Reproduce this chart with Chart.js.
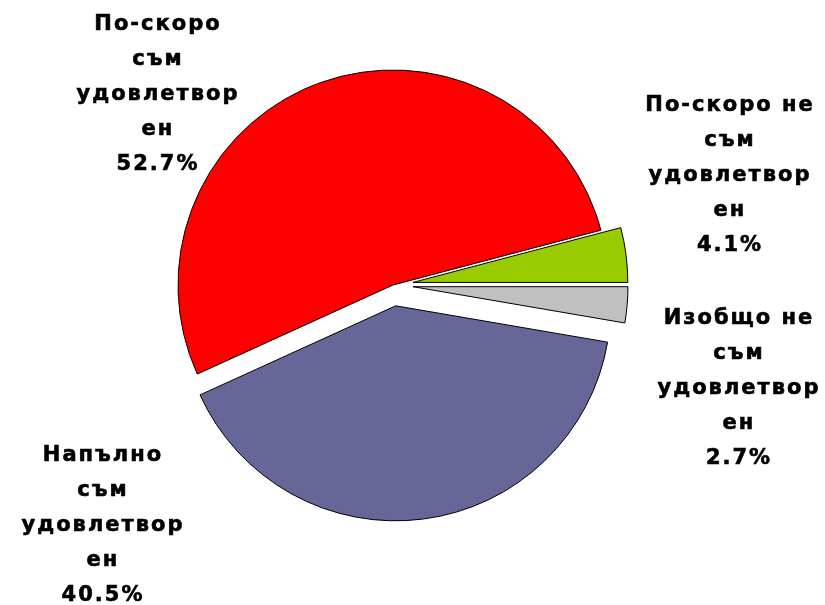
<!DOCTYPE html>
<html lang="bg">
<head>
<meta charset="UTF-8">
<title>Удовлетвореност</title>
<script src="https://cdn.jsdelivr.net/npm/chart.js"></script>
<style>
    body { margin: 0; background: #fff; }
    #wrap { width: 825px; height: 605px; }
</style>
</head>
<body>
<div id="wrap"><canvas id="pie"></canvas></div>
<script>
    // categories, split the way they wrap on the chart
    const categories = [
        ['Напълно', 'съм', 'удовлетвор', 'ен'],
        ['По-скоро', 'съм', 'удовлетвор', 'ен'],
        ['По-скоро не', 'съм', 'удовлетвор', 'ен'],
        ['Изобщо не', 'съм', 'удовлетвор', 'ен']
    ];
    const shares = [40.5, 52.7, 4.1, 2.7];
    const sliceColors = ['#666699', '#ff0000', '#99cc00', '#c0c0c0'];
    const explode = [21, 0, 20, 20];

    // label block position (centre of first line), relative to pie centre
    const labelAnchors = [
        { dx: -291, dy: 171 },
        { dx: -236, dy: -260 },
        { dx: 336, dy: -179 },
        { dx: 345, dy: 34 }
    ];

    // pull slices out along their middle angle without changing their radius
    // (the built-in offset also grows the slice)
    const explodeSlices = {
        id: 'explodeSlices',
        afterDatasetsUpdate(chart) {
            chart.getDatasetMeta(0).data.forEach((arc, i) => {
                const mid = (arc.startAngle + arc.endAngle) / 2;
                arc.x += Math.cos(mid) * explode[i];
                arc.y += Math.sin(mid) * explode[i];
            });
        }
    };

    const sliceLabels = {
        id: 'sliceLabels',
        afterDatasetsDraw(chart) {
            const ctx = chart.ctx;
            const cx = (chart.chartArea.left + chart.chartArea.right) / 2;
            const cy = (chart.chartArea.top + chart.chartArea.bottom) / 2;
            ctx.save();
            ctx.font = 'bold 21px "DejaVu Sans"';
            ctx.letterSpacing = '2px';
            ctx.fillStyle = '#000';
            ctx.strokeStyle = '#000';
            ctx.lineWidth = 0.6;
            ctx.textAlign = 'center';
            ctx.textBaseline = 'middle';
            categories.forEach((cat, i) => {
                const lines = cat.concat(shares[i].toFixed(1) + '%');
                const a = labelAnchors[i];
                lines.forEach((t, k) => {
                    const x = cx + a.dx + 1, y = cy + a.dy + k * 35;
                    ctx.fillText(t, x, y);
                    ctx.strokeText(t, x, y);
                });
            });
            ctx.restore();
        }
    };

    new Chart(document.getElementById('pie'), {
        type: 'pie',
        data: {
            labels: categories,
            datasets: [{
                data: shares,
                backgroundColor: sliceColors,
                borderColor: '#000',
                borderWidth: 1
            }]
        },
        options: {
            responsive: true,
            maintainAspectRatio: false,
            animation: false,
            rotation: 99.72,
            radius: 215,
            layout: { padding: { left: 0, right: 39, top: 0, bottom: 35 } },
            plugins: {
                legend: { display: false },
                tooltip: { enabled: false }
            }
        },
        plugins: [explodeSlices, sliceLabels]
    });
</script>
</body>
</html>
